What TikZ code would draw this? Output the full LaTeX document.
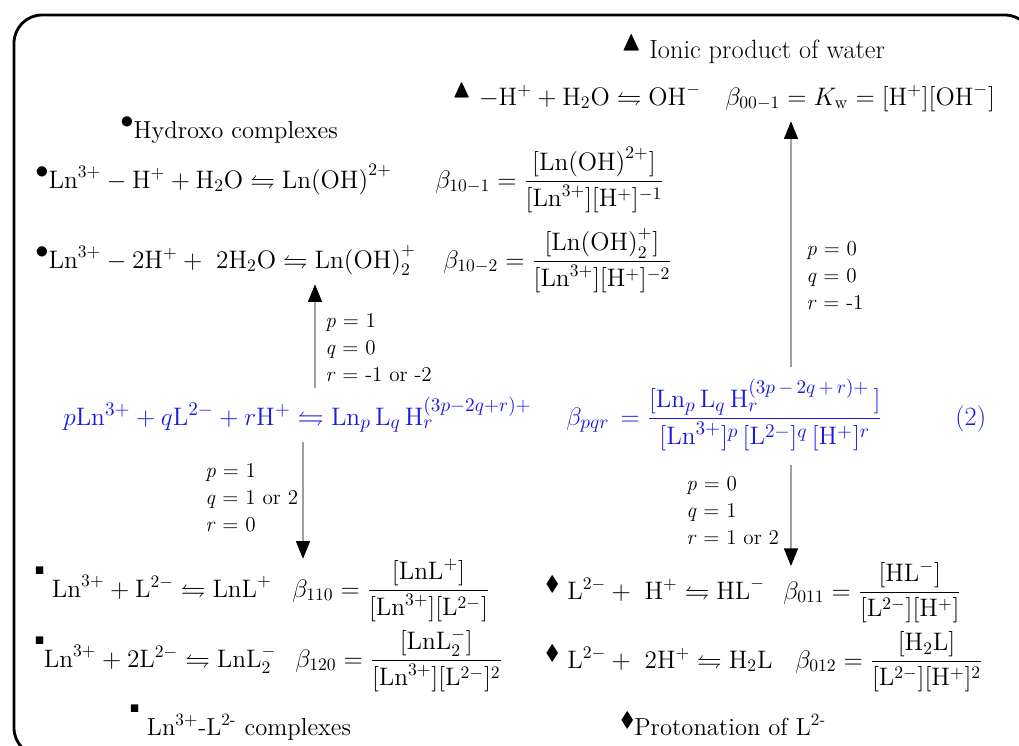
\documentclass[tikz,border=0pt]{standalone}
\usepackage{amsmath,amssymb}
\usepackage{tikz}
\usetikzlibrary{arrows.meta,positioning,calc}
\definecolor{eqblue}{RGB}{25,25,225}
\newcommand{\dotmark}{\raisebox{0.4em}{\scalebox{1.05}{$\bullet$}}}
\newcommand{\trimark}{\raisebox{0.3em}{\scalebox{1.05}{$\blacktriangle$}}}
\newcommand{\sqmark}{\raisebox{0.9em}{\scalebox{0.45}{$\blacksquare$}}}
\newcommand{\dmdmark}{\raisebox{0.35em}{\scalebox{0.85}{$\blacklozenge$}}}

\begin{document}
\begin{tikzpicture}[
  x=0.02cm, y=-0.02cm,
  eq/.style={
    anchor=base west,
    inner sep=0pt,
    font=\fontsize{14}{17}\selectfont
  },
  geneq/.style={
    eq,
    text=eqblue,
    font=\fontsize{15}{18}\selectfont
  },
  title/.style={
    anchor=base west,
    inner sep=0pt,
    font=\fontsize{14}{17}\selectfont
  },
  lab/.style={
    anchor=north west,
    align=left,
    inner sep=0pt,
    font=\fontsize{12}{15.3}\selectfont
  },
  edge/.style={
    draw=gray!75,
    line width=0.6pt,
    -{Triangle[width=8pt,length=10pt,color=black]}
  }
]
\useasboundingbox (0,0) rectangle (1019,745);
\clip (0,0) rectangle (1019,745);
% Frame
\draw[line width=1.6pt, rounded corners=16pt] (14,15) rectangle (1033,756);

% Group titles
\node[title, font=\fontsize{15}{18}\selectfont] (tw) at (621,58) {\trimark\ Ionic product of water};
\node[title] (th) at (120,138) {\dotmark Hydroxo complexes};
\node[title] (tl) at (130,735) {\sqmark\ Ln\textsuperscript{3+}-L\textsuperscript{2-} complexes};
\node[title] (tp) at (620,735) {\dmdmark Protonation of L\textsuperscript{2-}};

% Ionic product of water
\node[eq] (water) at (452,105) {\trimark\ $-\mathrm{H}^{+} + \mathrm{H_2O} \leftrightharpoons \mathrm{OH}^{-} \quad \beta_{00-1} = K_{\mathrm{w}} = [\mathrm{H}^{+}][\mathrm{OH}^{-}]$};

% Hydroxo complexes
\node[eq] (hyd1) at (35,188) {\dotmark$\mathrm{Ln}^{3+} - \mathrm{H}^{+} + \mathrm{H_2O} \leftrightharpoons \mathrm{Ln(OH)}^{2+}$};
\node[eq] (hyd1b) at (435,188) {$\beta_{10-1} = \dfrac{[\mathrm{Ln(OH)}^{2+}]}{[\mathrm{Ln}^{3+}][\mathrm{H}^{+}]^{-1}}$};
\node[eq] (hyd2) at (35,268) {\dotmark$\mathrm{Ln}^{3+} - 2\mathrm{H}^{+} + \ 2\mathrm{H_2O} \leftrightharpoons \mathrm{Ln(OH)}_2^{+}$};
\node[eq] (hyd2b) at (443,268) {$\beta_{10-2} = \dfrac{[\mathrm{Ln(OH)}_2^{+}]}{[\mathrm{Ln}^{3+}][\mathrm{H}^{+}]^{-2}}$};

% General equilibrium
\node[geneq] (gen) at (63,425) {$p\mathrm{Ln}^{3+} + q\mathrm{L}^{2-} + r\mathrm{H}^{+} \leftrightharpoons \mathrm{Ln}_p\,\mathrm{L}_q\,\mathrm{H}_r^{(3p-2q+r)+}$};
\node[geneq] (genb) at (566,425) {$\beta_{pqr} \,= \dfrac{[\mathrm{Ln}_p\,\mathrm{L}_q\,\mathrm{H}_r^{(3p\,-\,2q\,+\,r)+}\,]}{[\mathrm{Ln}^{3+}]^p\,[\mathrm{L}^{2-}]^q\,[\mathrm{H}^{+}]^r}$};
\node[geneq] (eqno) at (955,425) {(2)};

% Ln-L complexes
\node[eq] (lig1) at (35,597) {\sqmark\ $\mathrm{Ln}^{3+} + \mathrm{L}^{2-} \leftrightharpoons \mathrm{LnL}^{+}$};
\node[eq] (lig1b) at (292,597) {$\beta_{110} = \dfrac{[\mathrm{LnL}^{+}]}{[\mathrm{Ln}^{3+}][\mathrm{L}^{2-}]}$};
\node[eq] (lig2) at (35,667) {\sqmark$\mathrm{Ln}^{3+} + 2\mathrm{L}^{2-} \leftrightharpoons \mathrm{LnL}_2^{-}$};
\node[eq] (lig2b) at (295,667) {$\beta_{120} = \dfrac{[\mathrm{LnL}_2^{-}]}{[\mathrm{Ln}^{3+}][\mathrm{L}^{2-}]^2}$};

% Protonation of L
\node[eq] (prot1) at (545,599) {\dmdmark\ $\mathrm{L}^{2-} + \ \mathrm{H}^{+} \leftrightharpoons \mathrm{HL}^{-}$};
\node[eq] (prot1b) at (783,599) {$\beta_{011} = \dfrac{[\mathrm{HL}^{-}]}{[\mathrm{L}^{2-}][\mathrm{H}^{+}]}$};
\node[eq] (prot2) at (545,668) {\dmdmark\ $\mathrm{L}^{2-} + \ 2\mathrm{H}^{+} \leftrightharpoons \mathrm{H_2L}$};
\node[eq] (prot2b) at (795,668) {$\beta_{012} = \dfrac{[\mathrm{H_2L}]}{[\mathrm{L}^{2-}][\mathrm{H}^{+}]^2}$};

% Arrows with p, q, r values
\coordinate (xl1) at (315,0);
\coordinate (xl2) at (303,0);
\coordinate (xr) at (791,0);
\draw[edge, shorten <=5pt, shorten >=5pt] (gen.north -| xl1) -- (hyd2.south -| xl1);
\draw[edge, shorten <=5pt] (gen.south -| xl2) -- (lig1b.north -| xl2);
\draw[edge, shorten <=7pt, shorten >=5.5pt] (genb.north -| xr) -- (water.south -| xr);
\draw[edge, shorten <=8pt, shorten >=-3pt] (genb.south -| xr) -- (prot1b.north -| xr);

\node[lab] (l1) at (325,313) {\textit{p} = 1\\\textit{q} = 0\\\textit{r} = -1 or -2};
\node[lab] (l2) at (205,463) {\textit{p} = 1\\\textit{q} = 1 or 2\\\textit{r} = 0};
\node[lab] (l3) at (806,241) {\textit{p} = 0\\\textit{q} = 0\\\textit{r} = -1};
\node[lab] (l4) at (686,476) {\textit{p} = 0\\\textit{q} = 1\\\textit{r} = 1 or 2};
\end{tikzpicture}
\end{document}
